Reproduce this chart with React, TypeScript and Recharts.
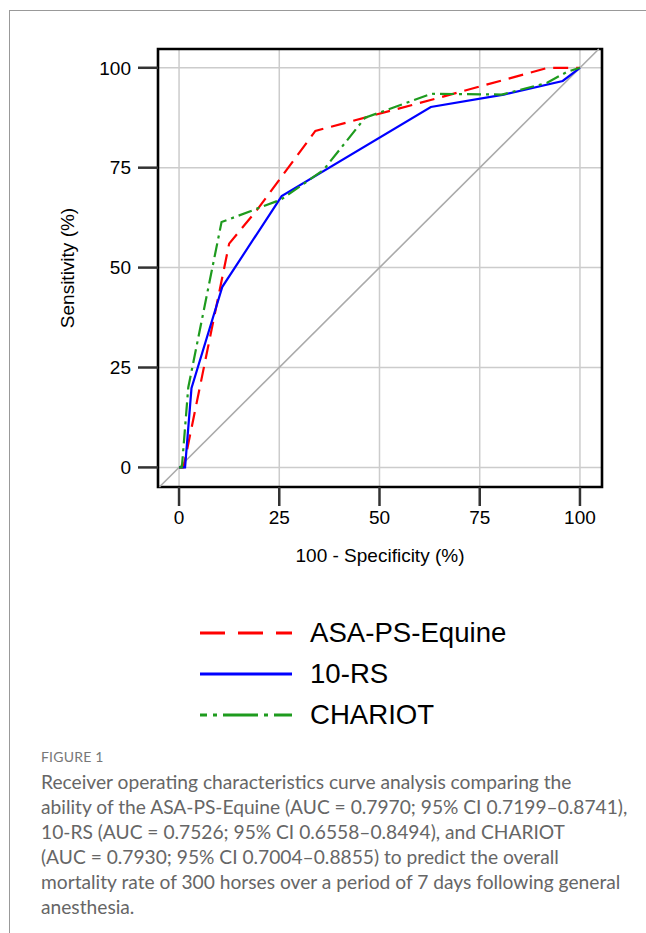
import React from "react";
import { LineChart, Line, XAxis, YAxis, CartesianGrid, ReferenceLine, ReferenceArea } from "recharts";

// ROC points: 100 - specificity (%) vs sensitivity (%)
const ASA_FPR = [0, 1.1, 12.5, 19.5, 34, 63, 92, 100];
const ASA_TPR = [0, 0, 56, 64.5, 84.2, 92, 100, 100];

const RS10_FPR = [0, 1.5, 3.1, 10.8, 25.6, 62.8, 81, 95.7, 100];
const RS10_TPR = [0, 0, 19.8, 45.2, 67.9, 90.2, 93.3, 96.7, 100];

const CHARIOT_FPR = [0, 0.7, 2.3, 10.6, 25.4, 36, 46.4, 63, 80.5, 91.7, 96.8, 100];
const CHARIOT_TPR = [0, 0, 20, 61.4, 67, 74.4, 87.5, 93.5, 93.3, 96.2, 99, 100];

const AXIS_TICKS = [0, 25, 50, 75, 100];
const X_DOMAIN: [number, number] = [-5.25, 105.5];
const Y_DOMAIN: [number, number] = [-4.9, 104.7];

const toPoints = (xs: number[], ys: number[]) => xs.map((x, i) => ({ x, y: ys[i] }));

const RED = "#ff0000";
const BLUE = "#0000ff";
const GREEN = "#1e9b1e";
const ARIAL = "'Liberation Sans', Arial, sans-serif";

const SERIES = [
  { name: "ASA-PS-Equine", color: RED, data: toPoints(ASA_FPR, ASA_TPR), dash: "15 8", legendDash: "25 13", legendOffset: 0 },
  { name: "10-RS", color: BLUE, data: toPoints(RS10_FPR, RS10_TPR), dash: undefined, legendDash: undefined, legendOffset: 0 },
  { name: "CHARIOT", color: GREEN, data: toPoints(CHARIOT_FPR, CHARIOT_TPR), dash: "14 5 3 5", legendDash: "35 6 4 6", legendOffset: 28 },
];

const tickStyle = { fontSize: 19, fill: "#000", fontFamily: ARIAL };

export default function App() {
  return (
    <div style={{ position: "absolute", left: 0, top: 0, width: 646, height: 933, background: "#fff", overflow: "hidden" }}>
      <div
        style={{
          position: "absolute",
          left: 9,
          top: 10,
          width: 700,
          height: 1000,
          borderTop: "1px solid #999",
          borderLeft: "1px solid #999",
        }}
      />

      <div style={{ position: "absolute", left: 0, top: 0 }}>
        <LineChart width={646} height={600} margin={{ top: 49, right: 44, bottom: 83, left: 98 }}>
          <CartesianGrid stroke="#cccccc" strokeWidth={1.5} />
          <XAxis
            dataKey="x"
            type="number"
            domain={X_DOMAIN}
            ticks={AXIS_TICKS}
            allowDataOverflow
            height={30}
            axisLine={false}
            tickSize={19}
            tickMargin={5}
            tickLine={{ stroke: "#333", strokeWidth: 2.5 }}
            tick={tickStyle}
          />
          <YAxis
            dataKey="y"
            type="number"
            domain={Y_DOMAIN}
            ticks={AXIS_TICKS}
            allowDataOverflow
            width={60}
            axisLine={false}
            tickSize={20}
            tickMargin={7}
            tickLine={{ stroke: "#333", strokeWidth: 2.5 }}
            tick={tickStyle}
          />
          <ReferenceLine
            segment={[
              { x: -4.9, y: -4.9 },
              { x: 104.7, y: 104.7 },
            ]}
            stroke="#aaaaaa"
            strokeWidth={1.6}
            ifOverflow="visible"
          />
          {SERIES.map((s) => (
            <Line
              key={s.name}
              data={s.data}
              dataKey="y"
              name={s.name}
              type="linear"
              stroke={s.color}
              strokeWidth={2.2}
              strokeDasharray={s.dash}
              dot={false}
              activeDot={false}
              isAnimationActive={false}
            />
          ))}
          <ReferenceArea
            x1={X_DOMAIN[0]}
            x2={X_DOMAIN[1]}
            y1={Y_DOMAIN[0]}
            y2={Y_DOMAIN[1]}
            fill="none"
            stroke="#000"
            strokeWidth={2.6}
            ifOverflow="visible"
          />
        </LineChart>
      </div>

      <div
        style={{
          position: "absolute",
          left: 68,
          top: 268,
          transform: "translate(-50%, -50%) rotate(-90deg)",
          fontFamily: ARIAL,
          fontSize: 19,
          whiteSpace: "nowrap",
          color: "#000",
        }}
      >
        Sensitivity (%)
      </div>
      <div
        style={{
          position: "absolute",
          left: 380,
          top: 556,
          transform: "translate(-50%, -50%)",
          fontFamily: ARIAL,
          fontSize: 19,
          whiteSpace: "nowrap",
          color: "#000",
        }}
      >
        100 - Specificity (%)
      </div>

      <div style={{ position: "absolute", left: 200, top: 612 }}>
        {SERIES.map((s) => (
          <div key={s.name} style={{ display: "flex", alignItems: "center", height: 41 }}>
            <svg width={92} height={10} style={{ display: "block" }}>
              <line
                x1={0}
                y1={5}
                x2={92}
                y2={5}
                stroke={s.color}
                strokeWidth={2.8}
                strokeDasharray={s.legendDash}
                strokeDashoffset={s.legendOffset}
              />
            </svg>
            <span style={{ marginLeft: 18, fontFamily: ARIAL, fontSize: 27.6, color: "#000", whiteSpace: "nowrap" }}>
              {s.name}
            </span>
          </div>
        ))}
      </div>

      <div
        style={{
          position: "absolute",
          left: 41,
          top: 747,
          lineHeight: "20px",
          fontFamily: "Lato, 'Open Sans', sans-serif",
          fontSize: 14,
          color: "#777",
          letterSpacing: 0.2,
        }}
      >
        FIGURE 1
      </div>
      <div
        style={{
          position: "absolute",
          left: 41,
          top: 768.5,
          lineHeight: "25px",
          fontFamily: "Lato, 'Open Sans', sans-serif",
          fontSize: 19.2,
          color: "#666",
          whiteSpace: "nowrap",
        }}
      >
        Receiver operating characteristics curve analysis comparing the
        <br />
        ability of the ASA-PS-Equine (AUC = 0.7970; 95% CI 0.7199–0.8741),
        <br />
        10-RS (AUC = 0.7526; 95% CI 0.6558–0.8494), and CHARIOT
        <br />
        (AUC = 0.7930; 95% CI 0.7004–0.8855) to predict the overall
        <br />
        mortality rate of 300 horses over a period of 7 days following general
        <br />
        anesthesia.
      </div>
    </div>
  );
}
